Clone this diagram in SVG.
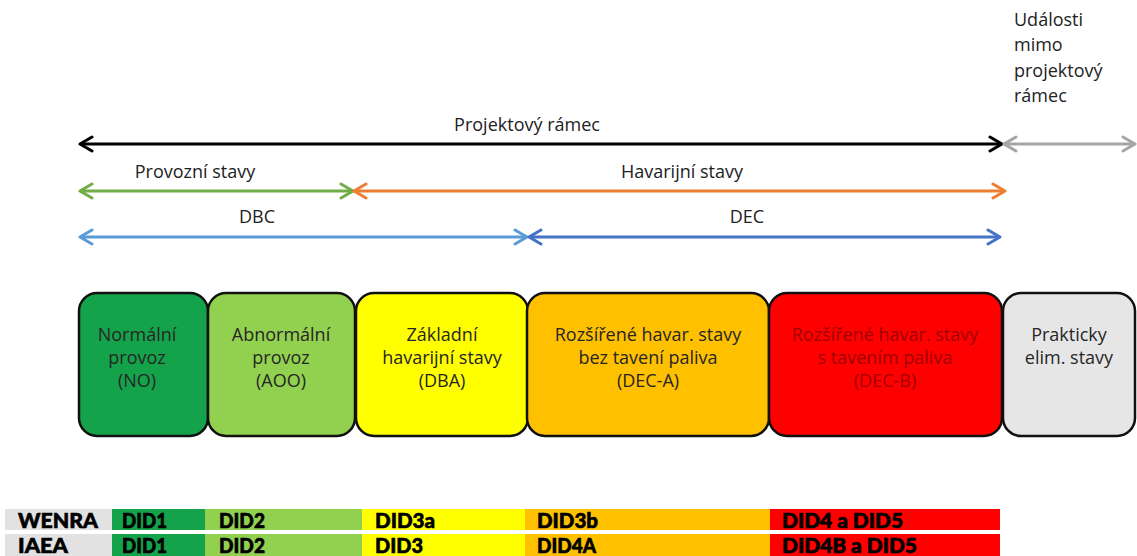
<svg xmlns="http://www.w3.org/2000/svg" width="1137" height="556" viewBox="0 0 1137 556">
<style>
  .lbl{font-family:"Open Sans","Noto Sans",sans-serif;font-size:18px;fill:#222;}
  .mid{text-anchor:middle;}
  .box{stroke:#111;stroke-width:2.5;}
  .bt{font-family:"Open Sans","Noto Sans",sans-serif;font-size:18px;text-anchor:middle;fill:#262626;}
  .rd{fill:#A00000;}
  .ln{fill:none;stroke-width:3;}
  .tb{font-family:"Lato","Noto Sans",sans-serif;font-weight:900;font-size:20px;fill:#000;stroke:#000;stroke-width:0.6;}
</style>
<defs>
  <marker id="mk" viewBox="0 0 16 20" markerWidth="16" markerHeight="20" refX="14" refY="10" markerUnits="userSpaceOnUse" orient="auto-start-reverse"><path d="M2,3 L14,10 L2,17" fill="none" stroke="#000" stroke-width="3" stroke-linecap="round" stroke-linejoin="round"/></marker>
  <marker id="mg" viewBox="0 0 16 20" markerWidth="16" markerHeight="20" refX="14" refY="10" markerUnits="userSpaceOnUse" orient="auto-start-reverse"><path d="M2,3 L14,10 L2,17" fill="none" stroke="#A5A5A5" stroke-width="3" stroke-linecap="round" stroke-linejoin="round"/></marker>
  <marker id="mgr" viewBox="0 0 16 20" markerWidth="16" markerHeight="20" refX="14" refY="10" markerUnits="userSpaceOnUse" orient="auto-start-reverse"><path d="M2,3 L14,10 L2,17" fill="none" stroke="#70AD47" stroke-width="3" stroke-linecap="round" stroke-linejoin="round"/></marker>
  <marker id="mor" viewBox="0 0 16 20" markerWidth="16" markerHeight="20" refX="14" refY="10" markerUnits="userSpaceOnUse" orient="auto-start-reverse"><path d="M2,3 L14,10 L2,17" fill="none" stroke="#ED7D31" stroke-width="3" stroke-linecap="round" stroke-linejoin="round"/></marker>
  <marker id="mlb" viewBox="0 0 16 20" markerWidth="16" markerHeight="20" refX="14" refY="10" markerUnits="userSpaceOnUse" orient="auto-start-reverse"><path d="M2,3 L14,10 L2,17" fill="none" stroke="#5B9BD5" stroke-width="3" stroke-linecap="round" stroke-linejoin="round"/></marker>
  <marker id="mdb" viewBox="0 0 16 20" markerWidth="16" markerHeight="20" refX="14" refY="10" markerUnits="userSpaceOnUse" orient="auto-start-reverse"><path d="M2,3 L14,10 L2,17" fill="none" stroke="#4472C4" stroke-width="3" stroke-linecap="round" stroke-linejoin="round"/></marker>
</defs>
<rect width="1137" height="556" fill="#fff"/>

<g id="connectors">
  <line class="ln" x1="80" y1="144" x2="1002" y2="144" stroke="#000" marker-start="url(#mk)" marker-end="url(#mk)"/>
  <line class="ln" x1="1004" y1="144" x2="1135" y2="144" stroke="#A5A5A5" marker-start="url(#mg)" marker-end="url(#mg)"/>
  <line class="ln" x1="80" y1="191" x2="353" y2="191" stroke="#70AD47" marker-start="url(#mgr)" marker-end="url(#mgr)"/>
  <line class="ln" x1="354" y1="191" x2="1005" y2="191" stroke="#ED7D31" marker-start="url(#mor)" marker-end="url(#mor)"/>
  <line class="ln" x1="80" y1="237" x2="527" y2="237" stroke="#5B9BD5" marker-start="url(#mlb)" marker-end="url(#mlb)"/>
  <line class="ln" x1="529" y1="237" x2="1000" y2="237" stroke="#4472C4" marker-start="url(#mdb)" marker-end="url(#mdb)"/>
</g>

<g id="labels">
  <text class="lbl mid" x="527" y="131">Projektový rámec</text>
  <text class="lbl mid" x="195" y="178">Provozní stavy</text>
  <text class="lbl mid" x="682" y="178">Havarijní stavy</text>
  <text class="lbl mid" x="257" y="223">DBC</text>
  <text class="lbl mid" x="747" y="223">DEC</text>
  <text class="lbl" x="1014" y="26">Události</text>
  <text class="lbl" x="1014" y="51">mimo</text>
  <text class="lbl" x="1014" y="77">projektový</text>
  <text class="lbl" x="1014" y="102">rámec</text>
</g>

<g id="node-no">
  <rect class="box" x="79" y="293" width="129" height="143" rx="18" fill="#14A24B"/>
  <text class="bt" x="137" y="341">Normální</text>
  <text class="bt" x="137" y="364">provoz</text>
  <text class="bt" x="137" y="387">(NO)</text>
</g>
<g id="node-aoo">
  <rect class="box" x="208" y="293" width="147" height="143" rx="18" fill="#92D050"/>
  <text class="bt" x="281" y="341">Abnormální</text>
  <text class="bt" x="281" y="364">provoz</text>
  <text class="bt" x="281" y="387">(AOO)</text>
</g>
<g id="node-dba">
  <rect class="box" x="356" y="293" width="172" height="143" rx="18" fill="#FFFF00"/>
  <text class="bt" x="442" y="341">Základní</text>
  <text class="bt" x="442" y="364">havarijní stavy</text>
  <text class="bt" x="442" y="387">(DBA)</text>
</g>
<g id="node-deca">
  <rect class="box" x="527" y="293" width="242" height="143" rx="18" fill="#FFC000"/>
  <text class="bt" x="648" y="341">Rozšířené havar. stavy</text>
  <text class="bt" x="648" y="364">bez tavení paliva</text>
  <text class="bt" x="648" y="387">(DEC-A)</text>
</g>
<g id="node-decb">
  <rect class="box" x="769" y="293" width="233" height="143" rx="18" fill="#FF0000"/>
  <text class="bt rd" x="885" y="341">Rozšířené havar. stavy</text>
  <text class="bt rd" x="885" y="364">s tavením paliva</text>
  <text class="bt rd" x="885" y="387">(DEC-B)</text>
</g>
<g id="node-pes">
  <rect class="box" x="1003" y="293" width="132" height="143" rx="18" fill="#E6E6E6"/>
  <text class="bt" x="1069" y="341">Prakticky</text>
  <text class="bt" x="1069" y="364">elim. stavy</text>
</g>

<g id="table">
  <rect x="5" y="509" width="107" height="21" fill="#E2E2E2"/>
  <rect x="112" y="509" width="93" height="21" fill="#14A24B"/>
  <rect x="205" y="509" width="157" height="21" fill="#92D050"/>
  <rect x="362" y="509" width="163" height="21" fill="#FFFF00"/>
  <rect x="525" y="509" width="245" height="21" fill="#FFC000"/>
  <rect x="770" y="509" width="230" height="21" fill="#FF0000"/>
  <rect x="5" y="534" width="107" height="22" fill="#E2E2E2"/>
  <rect x="112" y="534" width="93" height="22" fill="#14A24B"/>
  <rect x="205" y="534" width="157" height="22" fill="#92D050"/>
  <rect x="362" y="534" width="163" height="22" fill="#FFFF00"/>
  <rect x="525" y="534" width="245" height="22" fill="#FFC000"/>
  <rect x="770" y="534" width="230" height="22" fill="#FF0000"/>
  <text class="tb" x="18" y="528" textLength="80" lengthAdjust="spacingAndGlyphs">WENRA</text>
  <text class="tb" x="122" y="528" textLength="45" lengthAdjust="spacingAndGlyphs">DID1</text>
  <text class="tb" x="219" y="528" textLength="46" lengthAdjust="spacingAndGlyphs">DID2</text>
  <text class="tb" x="375" y="528" textLength="60" lengthAdjust="spacingAndGlyphs">DID3a</text>
  <text class="tb" x="537" y="528" textLength="61" lengthAdjust="spacingAndGlyphs">DID3b</text>
  <text class="tb" x="782" y="528" textLength="121" lengthAdjust="spacingAndGlyphs">DID4 a DID5</text>
  <text class="tb" x="18" y="553" textLength="50" lengthAdjust="spacingAndGlyphs">IAEA</text>
  <text class="tb" x="122" y="553" textLength="45" lengthAdjust="spacingAndGlyphs">DID1</text>
  <text class="tb" x="219" y="553" textLength="46" lengthAdjust="spacingAndGlyphs">DID2</text>
  <text class="tb" x="375" y="553" textLength="48" lengthAdjust="spacingAndGlyphs">DID3</text>
  <text class="tb" x="537" y="553" textLength="59" lengthAdjust="spacingAndGlyphs">DID4A</text>
  <text class="tb" x="782" y="553" textLength="135" lengthAdjust="spacingAndGlyphs">DID4B a DID5</text>
</g>
</svg>
